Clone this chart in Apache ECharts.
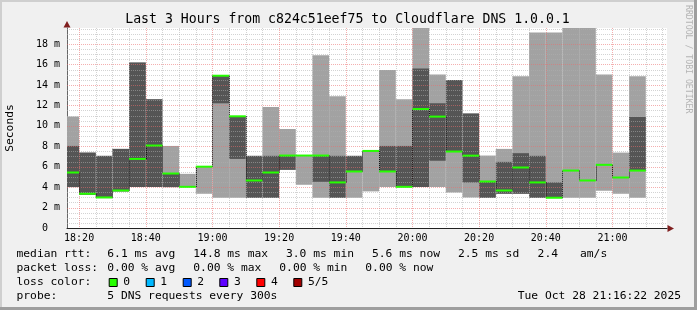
<!DOCTYPE html>
<html><head><meta charset="utf-8">
<script src="https://cdn.jsdelivr.net/npm/echarts@6/dist/echarts.min.js"></script>
<style>html,body{margin:0;padding:0;background:#f0f0f0}#c{width:697px;height:310px}</style>
</head><body><div id="c"></div>
<script>
// ---------------- data ----------------
const titleText = 'Last 3 Hours from c824c51eef75 to Cloudflare DNS 1.0.0.1';
const yAxisName = 'Seconds';
const timeStart = '18:16:22';
const timeEnd = '21:16:22';
const stepMinutes = 5; // probe every 300s
const barEnds = ['18:20','18:25','18:30','18:35','18:40','18:45','18:50','18:55','19:00','19:05',
  '19:10','19:15','19:20','19:25','19:30','19:35','19:40','19:45','19:50','19:55',
  '20:00','20:05','20:10','20:15','20:20','20:25','20:30','20:35','20:40','20:45',
  '20:50','20:55','21:00','21:05','21:10'];
// ping values in ms (sorted pings: lowest, 2nd, median, 4th, highest)
const pingMin  = [4.0,3.25,2.93,3.58,4.0,4.0,4.0,4.0,3.35,2.96, 2.96,2.96,2.96,5.69,4.23,2.96,2.96,2.96,3.58,4.0, 4.0,4.0,4.0,3.48,2.98,2.96,3.35,3.35,2.96,2.96, 2.96,2.96,3.64,3.35,2.96];
const pingLow  = [4.0,3.25,2.93,3.58,4.0,4.0,4.0,4.03,6.0,12.2, 6.76,2.96,2.96,5.69,7.09,4.52,2.96,5.53,7.54,5.53, 4.0,4.0,6.57,7.48,4.46,2.96,3.35,3.35,2.96,2.96, 5.62,4.65,6.18,4.94,5.62];
const median   = [5.43,3.35,2.99,3.67,6.76,8.07,5.33,4.03,6.0,14.9, 10.93,4.65,5.43,7.09,7.09,7.09,4.46,5.53,7.54,5.53, 4.03,11.64,10.9,7.48,7.08,4.55,3.67,5.92,4.46,2.96, 5.62,4.65,6.18,4.94,5.62];
const pingHigh = [8.03,7.38,7.06,7.74,16.2,12.6,5.33,4.03,6.0,14.9, 10.93,7.06,7.06,7.09,7.09,7.09,7.06,7.06,7.54,8.03, 8.03,15.6,12.2,14.47,11.2,4.55,6.47,7.32,7.06,4.46, 5.62,4.65,6.18,4.94,10.86];
const pingMax  = [10.9,7.38,7.06,7.74,16.2,12.6,8.03,5.3,6.0,14.9, 10.93,7.06,11.84,9.69,7.09,16.9,12.9,7.06,7.54,15.45, 12.6,19.8,15.02,14.47,11.2,7.09,7.74,14.86,19.12,19.12, 19.8,19.8,15.02,7.38,14.86];
const xTickLabels = ['18:20','18:40','19:00','19:20','19:40','20:00','20:20','20:40','21:00'];
const yTicks = [0,2,4,6,8,10,12,14,16,18];
const yMax = 19.57;

const rttLabel = 'median rtt:';
const rttStats = ['6.1 ms avg','14.8 ms max','3.0 ms min','5.6 ms now','2.5 ms sd','2.4','am/s'];
const lossLabel = 'packet loss:';
const lossStats = ['0.00 % avg','0.00 % max','0.00 % min','0.00 % now'];
const lossColorLabel = 'loss color:';
const lossColorNames = ['0','1','2','3','4','5/5'];
const lossColors = ['#26ff00','#00b8ff','#0059ff','#5e00ff','#ff0000','#a10000'];
const probeLabel = 'probe:';
const probeText = '5 DNS requests every 300s';
const stampText = 'Tue Oct 28 21:16:22 2025';
const watermark = 'RRDTOOL / TOBI OETIKER';

// ---------------- layout / style ----------------
const MONO = "'DejaVu Sans Mono', monospace";
const LIGHT = '#a2a2a2', DARK = '#555555', GREEN = lossColors[0];
const toMin = s => { const p = s.split(':').map(Number); return p[0]*60 + p[1] + (p[2]||0)/60; };
const fmtTime = v => { const h = Math.floor(v/60), m = Math.round(v - h*60); return String(h).padStart(2,'0')+':'+String(m).padStart(2,'0'); };
const tStart = toMin(timeStart), tEnd = toMin(timeEnd);

const smokeData = barEnds.map((e,i)=>[toMin(e)-stepMinutes, toMin(e), pingMin[i], pingLow[i], median[i], pingHigh[i], pingMax[i]]);
const connData = [];
for (let i=1;i<barEnds.length;i++) connData.push([toMin(barEnds[i])-stepMinutes, median[i-1], median[i]]);

const xMinor = [], xMajor = xTickLabels.map(toMin);
for (let t = toMin(barEnds[0]); t < tEnd; t += stepMinutes) if (!xMajor.includes(t)) xMinor.push([t,0]);
const yMajor = yTicks.filter(v=>v>0);
const yMinor = [];
for (let v = 0.5; v < yMax; v += 0.5) if (!yMajor.includes(v)) yMinor.push([tStart, v]);

const boxOf = cs => ({x:cs.x, y:cs.y, width:cs.width, height:cs.height});

function renderSmoke(params, api){
  const box = boxOf(params.coordSys);
  const t0 = api.value(0), t1 = api.value(1);
  const mk = (lo, hi, color) => {
    const a = api.coord([t0, hi]), b = api.coord([t1, lo]);
    const r = echarts.graphic.clipRectByRect({x:a[0], y:a[1], width:b[0]-a[0], height:b[1]-a[1]}, box);
    return r ? {type:'rect', shape:r, style:{fill:color}} : null;
  };
  return {type:'group', children:[mk(api.value(2), api.value(6), LIGHT), mk(api.value(3), api.value(5), DARK)].filter(Boolean)};
}
function renderMedian(params, api){
  const box = boxOf(params.coordSys);
  const a = api.coord([api.value(0), api.value(4)]), b = api.coord([api.value(1), api.value(4)]);
  const r = echarts.graphic.clipRectByRect({x:a[0], y:a[1]-1, width:b[0]-a[0], height:2}, box);
  return r ? {type:'rect', shape:r, style:{fill:GREEN}} : null;
}
function renderConn(params, api){
  const a = api.coord([api.value(0), api.value(1)]), b = api.coord([api.value(0), api.value(2)]);
  const x = Math.round(a[0]) + 0.5;
  return {type:'line', shape:{x1:x, y1:a[1], x2:x, y2:b[1]}, style:{stroke:'#111', lineWidth:1, lineDash:[1,1]}};
}
function vGrid(color){
  return function(params, api){
    const cs = params.coordSys;
    const x = Math.round(api.coord([api.value(0), 0])[0]) + 0.5;
    return {type:'line', shape:{x1:x, y1:cs.y, x2:x, y2:cs.y+cs.height}, style:{stroke:color, lineWidth:1, lineDash:[1,1]}};
  };
}
function hGrid(color){
  return function(params, api){
    const cs = params.coordSys;
    const y = Math.round(api.coord([tStart, api.value(1)])[1]) + 0.5;
    return {type:'line', shape:{x1:cs.x, y1:y, x2:cs.x+cs.width, y2:y}, style:{stroke:color, lineWidth:1, lineDash:[1,1]}};
  };
}
const MINOR = 'rgba(175,175,175,0.55)', MAJOR = 'rgba(235,110,110,0.55)';

// legend graphics
const g = [];
const txt = (x, y, text, extra) => g.push({type:'text', x, y, style:Object.assign({text, font:'11.3px '+MONO, fill:'#000', textAlign:'left', textVerticalAlign:'middle'}, extra||{})});
const rowY = [254, 268, 282.3, 296.3];
txt(16.5, rowY[0], rttLabel);
[107.3,193.3,286,372,458,537.6,580].forEach((x,i)=>txt(x, rowY[0], rttStats[i]));
txt(16.5, rowY[1], lossLabel);
[107.3,193.3,279.3,365.3].forEach((x,i)=>txt(x, rowY[1], lossStats[i]));
txt(16.5, rowY[2], lossColorLabel);
[108.7,145.7,182.7,219.3,256.3,293.3].forEach((x,i)=>{
  g.push({type:'rect', shape:{x:x+0.5, y:278.5, width:8, height:8}, style:{fill:lossColors[i], stroke:'#000', lineWidth:1}});
  txt(x+14.6, rowY[2], lossColorNames[i]);
});
txt(16.5, rowY[3], probeLabel);
txt(107.3, rowY[3], probeText);
txt(681, rowY[3], stampText, {textAlign:'right'});
// title
g.push({type:'text', x:347.5, y:19.5, style:{text:titleText, font:'13.2px '+MONO, fill:'#000', textAlign:'center', textVerticalAlign:'middle'}});
// watermark
g.push({type:'text', x:688.5, y:5, rotation:-Math.PI/2, style:{text:watermark, font:'8.2px '+MONO, fill:'#b4b4b4', textAlign:'left', textVerticalAlign:'middle'}});
// frame
g.push({type:'rect', shape:{x:0,y:0,width:697,height:2}, style:{fill:'#cfcfcf'}});
g.push({type:'rect', shape:{x:0,y:0,width:2,height:310}, style:{fill:'#cfcfcf'}});
g.push({type:'rect', shape:{x:694,y:0,width:3,height:310}, style:{fill:'#9e9e9e'}});
g.push({type:'rect', shape:{x:0,y:307,width:697,height:3}, style:{fill:'#9e9e9e'}});
// axis arrows
g.push({type:'polygon', shape:{points:[[67,21],[63.5,27.5],[70.5,27.5]]}, style:{fill:'#801f1f'}});
g.push({type:'polygon', shape:{points:[[674,228.5],[667.5,225],[667.5,232]]}, style:{fill:'#801f1f'}});

const chart = echarts.init(document.getElementById('c'), null, {renderer:'canvas'});
chart.setOption({
  animation:false,
  backgroundColor:'#f0f0f0',
  grid:{left:67, top:28, width:600, height:200, show:true, backgroundColor:'#ffffff', borderWidth:0,
        containLabel:false, outerBoundsMode:'none'},
  xAxis:{type:'value', min:tStart, max:tEnd,
    axisLine:{show:true, onZero:false, lineStyle:{color:'#222', width:1}},
    axisTick:{show:false}, splitLine:{show:false},
    axisLabel:{customValues:xMajor, formatter:fmtTime, margin:5, fontFamily:MONO, fontSize:10, color:'#000'}},
  yAxis:{type:'value', min:0, max:yMax, interval:2,
    name:yAxisName, nameLocation:'middle', nameRotate:90, nameGap:51,
    nameTextStyle:{fontFamily:MONO, fontSize:11.3, color:'#000'},
    axisLine:{show:true, lineStyle:{color:'#666', width:1}},
    axisTick:{show:false}, splitLine:{show:false},
    axisLabel:{showMaxLabel:false, margin:7, fontFamily:MONO, fontSize:10, color:'#000',
      formatter:v => v===0 ? '0  ' : (v+' m')}},
  series:[
    {type:'custom', z:1, renderItem:renderSmoke, data:smokeData, silent:true},
    {type:'custom', z:2, renderItem:vGrid(MINOR), data:xMinor, silent:true},
    {type:'custom', z:2, renderItem:hGrid(MINOR), data:yMinor, silent:true},
    {type:'custom', z:2, renderItem:vGrid(MAJOR), data:xMajor.map(t=>[t,0]), silent:true},
    {type:'custom', z:2, renderItem:hGrid(MAJOR), data:yMajor.map(v=>[tStart,v]), silent:true},
    {type:'custom', z:3, renderItem:renderConn, data:connData, silent:true},
    {type:'custom', z:4, renderItem:renderMedian, data:smokeData, silent:true}
  ],
  graphic:{elements:g}
});
</script></body></html>
